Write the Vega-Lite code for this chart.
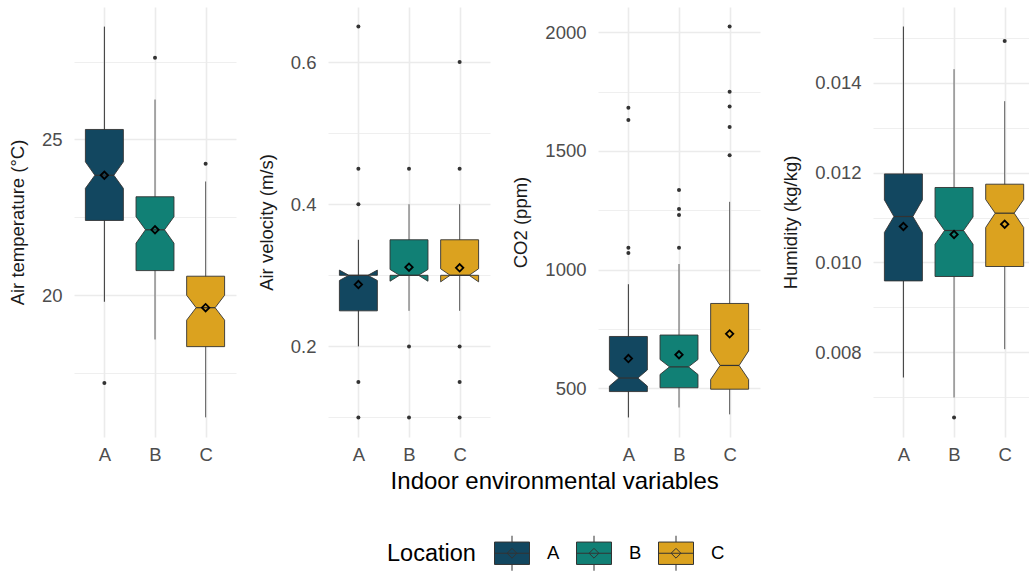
{
  "$schema": "https://vega.github.io/schema/vega-lite/v6.json",
  "datasets": {
    "boxes": [
      {"var": "temp", "loc": "A", "lo": 19.79, "q1": 22.40, "nlo": 23.43, "med": 23.85, "nhi": 24.28, "q3": 25.32, "hi": 28.62, "mean": 23.85},
      {"var": "temp", "loc": "B", "lo": 18.58, "q1": 20.79, "nlo": 21.67, "med": 22.10, "nhi": 22.52, "q3": 23.16, "hi": 26.28, "mean": 22.10},
      {"var": "temp", "loc": "C", "lo": 16.08, "q1": 18.35, "nlo": 19.20, "med": 19.60, "nhi": 20.00, "q3": 20.61, "hi": 23.65, "mean": 19.60},
      {"var": "vel", "loc": "A", "lo": 0.20, "q1": 0.25, "nlo": 0.2927, "med": 0.30, "nhi": 0.3073, "q3": 0.30, "hi": 0.35, "mean": 0.287},
      {"var": "vel", "loc": "B", "lo": 0.25, "q1": 0.30, "nlo": 0.2917, "med": 0.30, "nhi": 0.3083, "q3": 0.35, "hi": 0.40, "mean": 0.3114},
      {"var": "vel", "loc": "C", "lo": 0.25, "q1": 0.30, "nlo": 0.2908, "med": 0.30, "nhi": 0.3092, "q3": 0.35, "hi": 0.40, "mean": 0.3105},
      {"var": "co2", "loc": "A", "lo": 378, "q1": 487, "nlo": 510, "med": 544, "nhi": 578, "q3": 719, "hi": 939, "mean": 626},
      {"var": "co2", "loc": "B", "lo": 420, "q1": 503, "nlo": 559, "med": 591, "nhi": 622, "q3": 725, "hi": 1024, "mean": 642},
      {"var": "co2", "loc": "C", "lo": 391, "q1": 497, "nlo": 538, "med": 597, "nhi": 658, "q3": 858, "hi": 1286, "mean": 730},
      {"var": "hum", "loc": "A", "lo": 0.007444, "q1": 0.009591, "nlo": 0.010667, "med": 0.011022, "nhi": 0.011391, "q3": 0.011969, "hi": 0.015244, "mean": 0.0108},
      {"var": "hum", "loc": "B", "lo": 0.0070, "q1": 0.009689, "nlo": 0.010407, "med": 0.010711, "nhi": 0.011011, "q3": 0.011667, "hi": 0.014296, "mean": 0.010622},
      {"var": "hum", "loc": "C", "lo": 0.008074, "q1": 0.009911, "nlo": 0.010778, "med": 0.011096, "nhi": 0.011400, "q3": 0.01174, "hi": 0.013585, "mean": 0.010851}
    ],
    "outliers": [
      {"var": "temp", "loc": "A", "v": 17.18},
      {"var": "temp", "loc": "B", "v": 27.62},
      {"var": "temp", "loc": "C", "v": 24.22},
      {"var": "vel", "loc": "A", "v": 0.65},
      {"var": "vel", "loc": "A", "v": 0.45},
      {"var": "vel", "loc": "A", "v": 0.40},
      {"var": "vel", "loc": "A", "v": 0.15},
      {"var": "vel", "loc": "A", "v": 0.10},
      {"var": "vel", "loc": "B", "v": 0.45},
      {"var": "vel", "loc": "B", "v": 0.20},
      {"var": "vel", "loc": "B", "v": 0.10},
      {"var": "vel", "loc": "C", "v": 0.60},
      {"var": "vel", "loc": "C", "v": 0.45},
      {"var": "vel", "loc": "C", "v": 0.20},
      {"var": "vel", "loc": "C", "v": 0.15},
      {"var": "vel", "loc": "C", "v": 0.10},
      {"var": "co2", "loc": "A", "v": 1682},
      {"var": "co2", "loc": "A", "v": 1630},
      {"var": "co2", "loc": "A", "v": 1093},
      {"var": "co2", "loc": "A", "v": 1070},
      {"var": "co2", "loc": "B", "v": 1336},
      {"var": "co2", "loc": "B", "v": 1256},
      {"var": "co2", "loc": "B", "v": 1231},
      {"var": "co2", "loc": "B", "v": 1093},
      {"var": "co2", "loc": "C", "v": 2024},
      {"var": "co2", "loc": "C", "v": 1749},
      {"var": "co2", "loc": "C", "v": 1687},
      {"var": "co2", "loc": "C", "v": 1601},
      {"var": "co2", "loc": "C", "v": 1482},
      {"var": "hum", "loc": "B", "v": 0.006556},
      {"var": "hum", "loc": "C", "v": 0.014924}
    ]
  },
  "title": {"text": "Indoor environmental variables", "orient": "bottom", "anchor": "middle", "fontSize": 24, "fontWeight": "normal", "font": "Liberation Sans", "color": "#000000", "offset": -103, "dx": 36},
  "padding": {"left": 8, "right": 0, "top": 7, "bottom": 0},
  "spacing": 21,
  "hconcat": [
    {
      "width": 162, "height": 430,
      "layer": [
        {
          "data": {"name": "boxes"},
          "transform": [{"filter": "datum.var==='temp'"}, {"calculate": "indexof(['A','B','C'], datum.loc)+1", "as": "xc"}],
          "mark": {"type": "rule", "strokeWidth": 1, "stroke": {"expr": "datum.loc==='A' ? '#333333' : '#5c5c5c'"}},
          "encoding": {
            "x": {"field": "xc", "type": "quantitative", "title": null, "scale": {"domain": [0.4, 3.6], "nice": false, "zero": false}, "axis": {"values": [1, 2, 3], "labelExpr": "['','A','B','C'][datum.value]", "grid": true}},
            "y": {"field": "lo", "type": "quantitative", "title": "Air temperature (°C)", "scale": {"domain": [15.45, 29.25], "nice": false, "zero": false}, "axis": {"values": [17.5, 20, 22.5, 25, 27.5], "labelExpr": "indexof([20,25], datum.value) >= 0 ? datum.label : ''", "gridWidth": {"condition": {"test": "indexof([20,25], datum.value) >= 0", "value": 1.6}, "value": 0.8}}},
            "y2": {"field": "hi"}
          }
        },
        {
          "data": {"name": "boxes"},
          "transform": [
            {"filter": "datum.var==='temp'"},
            {"fold": ["q3", "nhi", "med", "nlo", "q1"], "as": ["k", "yv"]},
            {"calculate": "indexof(['q3','nhi','med','nlo','q1'], datum.k)", "as": "i"},
            {"calculate": "datum.k==='med' ? 0.1875 : 0.375", "as": "hw"},
            {"calculate": "indexof(['A','B','C'], datum.loc)+1", "as": "xc"},
            {"calculate": "datum.xc-datum.hw", "as": "xL"},
            {"calculate": "datum.xc+datum.hw", "as": "xR"},
            {"fold": ["xL", "xR"], "as": ["side", "xv"]},
            {"calculate": "datum.side==='xL' ? datum.i : 9-datum.i", "as": "ord"}
          ],
          "mark": {"type": "line", "interpolate": "linear-closed", "stroke": "#333333", "strokeWidth": 0.9},
          "encoding": {
            "x": {"field": "xv", "type": "quantitative", "title": null},
            "y": {"field": "yv", "type": "quantitative", "title": "Air temperature (°C)"},
            "order": {"field": "ord", "type": "quantitative"},
            "fill": {"field": "loc", "type": "nominal", "title": "Location", "scale": {"domain": ["A", "B", "C"], "range": ["#124760", "#118075", "#DBA21F"]}}
          }
        },
        {
          "data": {"name": "boxes"},
          "transform": [{"filter": "datum.var==='temp'"}, {"calculate": "indexof(['A','B','C'], datum.loc)+1", "as": "xc"}, {"calculate": "datum.xc-0.1875", "as": "m1"}, {"calculate": "datum.xc+0.1875", "as": "m2"}],
          "mark": {"type": "rule", "stroke": "#333333", "strokeWidth": 1.2},
          "encoding": {"x": {"field": "m1", "type": "quantitative", "title": null}, "x2": {"field": "m2"}, "y": {"field": "med", "type": "quantitative", "title": "Air temperature (°C)"}}
        },
        {
          "data": {"name": "outliers"},
          "transform": [{"filter": "datum.var==='temp'"}, {"calculate": "indexof(['A','B','C'], datum.loc)+1", "as": "xc"}],
          "mark": {"type": "circle", "size": 16, "color": "#333333", "opacity": 1},
          "encoding": {"x": {"field": "xc", "type": "quantitative", "title": null}, "y": {"field": "v", "type": "quantitative", "title": "Air temperature (°C)"}}
        },
        {
          "data": {"name": "boxes"},
          "transform": [{"filter": "datum.var==='temp'"}, {"calculate": "indexof(['A','B','C'], datum.loc)+1", "as": "xc"}],
          "mark": {"type": "point", "shape": "diamond", "filled": false, "stroke": "#000000", "strokeWidth": 1.8, "size": 55, "opacity": 1},
          "encoding": {"x": {"field": "xc", "type": "quantitative", "title": null}, "y": {"field": "mean", "type": "quantitative", "title": "Air temperature (°C)"}}
        }
      ]
    },
    {
      "width": 162, "height": 430,
      "layer": [
        {
          "data": {"name": "boxes"},
          "transform": [{"filter": "datum.var==='vel'"}, {"calculate": "indexof(['A','B','C'], datum.loc)+1", "as": "xc"}],
          "mark": {"type": "rule", "strokeWidth": 1, "stroke": {"expr": "datum.loc==='A' ? '#333333' : '#5c5c5c'"}},
          "encoding": {
            "x": {"field": "xc", "type": "quantitative", "title": null, "scale": {"domain": [0.4, 3.6], "nice": false, "zero": false}, "axis": {"values": [1, 2, 3], "labelExpr": "['','A','B','C'][datum.value]", "grid": true}},
            "y": {"field": "lo", "type": "quantitative", "title": "Air velocity (m/s)", "scale": {"domain": [0.0725, 0.6775], "nice": false, "zero": false}, "axis": {"values": [0.1, 0.2, 0.3, 0.4, 0.5, 0.6], "format": ".1f", "labelExpr": "indexof([0.2,0.4,0.6], datum.value) >= 0 ? datum.label : ''", "gridWidth": {"condition": {"test": "indexof([0.2,0.4,0.6], datum.value) >= 0", "value": 1.6}, "value": 0.8}}},
            "y2": {"field": "hi"}
          }
        },
        {
          "data": {"name": "boxes"},
          "transform": [
            {"filter": "datum.var==='vel'"},
            {"fold": ["q3", "nhi", "med", "nlo", "q1"], "as": ["k", "yv"]},
            {"calculate": "indexof(['q3','nhi','med','nlo','q1'], datum.k)", "as": "i"},
            {"calculate": "datum.k==='med' ? 0.1875 : 0.375", "as": "hw"},
            {"calculate": "indexof(['A','B','C'], datum.loc)+1", "as": "xc"},
            {"calculate": "datum.xc-datum.hw", "as": "xL"},
            {"calculate": "datum.xc+datum.hw", "as": "xR"},
            {"fold": ["xL", "xR"], "as": ["side", "xv"]},
            {"calculate": "datum.side==='xL' ? datum.i : 9-datum.i", "as": "ord"}
          ],
          "mark": {"type": "line", "interpolate": "linear-closed", "stroke": "#333333", "strokeWidth": 0.9},
          "encoding": {
            "x": {"field": "xv", "type": "quantitative", "title": null},
            "y": {"field": "yv", "type": "quantitative", "title": "Air velocity (m/s)"},
            "order": {"field": "ord", "type": "quantitative"},
            "fill": {"field": "loc", "type": "nominal", "title": "Location", "scale": {"domain": ["A", "B", "C"], "range": ["#124760", "#118075", "#DBA21F"]}}
          }
        },
        {
          "data": {"name": "boxes"},
          "transform": [{"filter": "datum.var==='vel'"}, {"calculate": "indexof(['A','B','C'], datum.loc)+1", "as": "xc"}, {"calculate": "datum.xc-0.1875", "as": "m1"}, {"calculate": "datum.xc+0.1875", "as": "m2"}],
          "mark": {"type": "rule", "stroke": "#333333", "strokeWidth": 1.2},
          "encoding": {"x": {"field": "m1", "type": "quantitative", "title": null}, "x2": {"field": "m2"}, "y": {"field": "med", "type": "quantitative", "title": "Air velocity (m/s)"}}
        },
        {
          "data": {"name": "outliers"},
          "transform": [{"filter": "datum.var==='vel'"}, {"calculate": "indexof(['A','B','C'], datum.loc)+1", "as": "xc"}],
          "mark": {"type": "circle", "size": 16, "color": "#333333", "opacity": 1},
          "encoding": {"x": {"field": "xc", "type": "quantitative", "title": null}, "y": {"field": "v", "type": "quantitative", "title": "Air velocity (m/s)"}}
        },
        {
          "data": {"name": "boxes"},
          "transform": [{"filter": "datum.var==='vel'"}, {"calculate": "indexof(['A','B','C'], datum.loc)+1", "as": "xc"}],
          "mark": {"type": "point", "shape": "diamond", "filled": false, "stroke": "#000000", "strokeWidth": 1.8, "size": 55, "opacity": 1},
          "encoding": {"x": {"field": "xc", "type": "quantitative", "title": null}, "y": {"field": "mean", "type": "quantitative", "title": "Air velocity (m/s)"}}
        }
      ]
    },
    {
      "width": 162, "height": 430,
      "layer": [
        {
          "data": {"name": "boxes"},
          "transform": [{"filter": "datum.var==='co2'"}, {"calculate": "indexof(['A','B','C'], datum.loc)+1", "as": "xc"}],
          "mark": {"type": "rule", "strokeWidth": 1, "stroke": {"expr": "datum.loc==='A' ? '#333333' : '#5c5c5c'"}},
          "encoding": {
            "x": {"field": "xc", "type": "quantitative", "title": null, "scale": {"domain": [0.4, 3.6], "nice": false, "zero": false}, "axis": {"values": [1, 2, 3], "labelExpr": "['','A','B','C'][datum.value]", "grid": true}},
            "y": {"field": "lo", "type": "quantitative", "title": "CO2 (ppm)", "scale": {"domain": [295.7, 2106.3], "nice": false, "zero": false}, "axis": {"values": [500, 750, 1000, 1250, 1500, 1750, 2000], "format": "d", "labelExpr": "indexof([500,1000,1500,2000], datum.value) >= 0 ? datum.label : ''", "gridWidth": {"condition": {"test": "indexof([500,1000,1500,2000], datum.value) >= 0", "value": 1.6}, "value": 0.8}}},
            "y2": {"field": "hi"}
          }
        },
        {
          "data": {"name": "boxes"},
          "transform": [
            {"filter": "datum.var==='co2'"},
            {"fold": ["q3", "nhi", "med", "nlo", "q1"], "as": ["k", "yv"]},
            {"calculate": "indexof(['q3','nhi','med','nlo','q1'], datum.k)", "as": "i"},
            {"calculate": "datum.k==='med' ? 0.1875 : 0.375", "as": "hw"},
            {"calculate": "indexof(['A','B','C'], datum.loc)+1", "as": "xc"},
            {"calculate": "datum.xc-datum.hw", "as": "xL"},
            {"calculate": "datum.xc+datum.hw", "as": "xR"},
            {"fold": ["xL", "xR"], "as": ["side", "xv"]},
            {"calculate": "datum.side==='xL' ? datum.i : 9-datum.i", "as": "ord"}
          ],
          "mark": {"type": "line", "interpolate": "linear-closed", "stroke": "#333333", "strokeWidth": 0.9},
          "encoding": {
            "x": {"field": "xv", "type": "quantitative", "title": null},
            "y": {"field": "yv", "type": "quantitative", "title": "CO2 (ppm)"},
            "order": {"field": "ord", "type": "quantitative"},
            "fill": {"field": "loc", "type": "nominal", "title": "Location", "scale": {"domain": ["A", "B", "C"], "range": ["#124760", "#118075", "#DBA21F"]}}
          }
        },
        {
          "data": {"name": "boxes"},
          "transform": [{"filter": "datum.var==='co2'"}, {"calculate": "indexof(['A','B','C'], datum.loc)+1", "as": "xc"}, {"calculate": "datum.xc-0.1875", "as": "m1"}, {"calculate": "datum.xc+0.1875", "as": "m2"}],
          "mark": {"type": "rule", "stroke": "#333333", "strokeWidth": 1.2},
          "encoding": {"x": {"field": "m1", "type": "quantitative", "title": null}, "x2": {"field": "m2"}, "y": {"field": "med", "type": "quantitative", "title": "CO2 (ppm)"}}
        },
        {
          "data": {"name": "outliers"},
          "transform": [{"filter": "datum.var==='co2'"}, {"calculate": "indexof(['A','B','C'], datum.loc)+1", "as": "xc"}],
          "mark": {"type": "circle", "size": 16, "color": "#333333", "opacity": 1},
          "encoding": {"x": {"field": "xc", "type": "quantitative", "title": null}, "y": {"field": "v", "type": "quantitative", "title": "CO2 (ppm)"}}
        },
        {
          "data": {"name": "boxes"},
          "transform": [{"filter": "datum.var==='co2'"}, {"calculate": "indexof(['A','B','C'], datum.loc)+1", "as": "xc"}],
          "mark": {"type": "point", "shape": "diamond", "filled": false, "stroke": "#000000", "strokeWidth": 1.8, "size": 55, "opacity": 1},
          "encoding": {"x": {"field": "xc", "type": "quantitative", "title": null}, "y": {"field": "mean", "type": "quantitative", "title": "CO2 (ppm)"}}
        }
      ]
    },
    {
      "width": 156, "height": 430,
      "layer": [
        {
          "data": {"name": "boxes"},
          "transform": [{"filter": "datum.var==='hum'"}, {"calculate": "indexof(['A','B','C'], datum.loc)+1", "as": "xc"}],
          "mark": {"type": "rule", "strokeWidth": 1, "stroke": {"expr": "datum.loc==='A' ? '#333333' : '#5c5c5c'"}},
          "encoding": {
            "x": {"field": "xc", "type": "quantitative", "title": null, "scale": {"domain": [0.4, 3.48], "nice": false, "zero": false}, "axis": {"values": [1, 2, 3], "labelExpr": "['','A','B','C'][datum.value]", "grid": true}},
            "y": {"field": "lo", "type": "quantitative", "title": "Humidity (kg/kg)", "scale": {"domain": [0.006122, 0.015678], "nice": false, "zero": false}, "axis": {"values": [0.007, 0.008, 0.009, 0.010, 0.011, 0.012, 0.013, 0.014, 0.015], "format": ".3f", "labelExpr": "indexof([0.008,0.010,0.012,0.014], datum.value) >= 0 ? datum.label : ''", "gridWidth": {"condition": {"test": "indexof([0.008,0.010,0.012,0.014], datum.value) >= 0", "value": 1.6}, "value": 0.8}}},
            "y2": {"field": "hi"}
          }
        },
        {
          "data": {"name": "boxes"},
          "transform": [
            {"filter": "datum.var==='hum'"},
            {"fold": ["q3", "nhi", "med", "nlo", "q1"], "as": ["k", "yv"]},
            {"calculate": "indexof(['q3','nhi','med','nlo','q1'], datum.k)", "as": "i"},
            {"calculate": "datum.k==='med' ? 0.1875 : 0.375", "as": "hw"},
            {"calculate": "indexof(['A','B','C'], datum.loc)+1", "as": "xc"},
            {"calculate": "datum.xc-datum.hw", "as": "xL"},
            {"calculate": "datum.xc+datum.hw", "as": "xR"},
            {"fold": ["xL", "xR"], "as": ["side", "xv"]},
            {"calculate": "datum.side==='xL' ? datum.i : 9-datum.i", "as": "ord"}
          ],
          "mark": {"type": "line", "interpolate": "linear-closed", "stroke": "#333333", "strokeWidth": 0.9},
          "encoding": {
            "x": {"field": "xv", "type": "quantitative", "title": null},
            "y": {"field": "yv", "type": "quantitative", "title": "Humidity (kg/kg)"},
            "order": {"field": "ord", "type": "quantitative"},
            "fill": {"field": "loc", "type": "nominal", "title": "Location", "scale": {"domain": ["A", "B", "C"], "range": ["#124760", "#118075", "#DBA21F"]}}
          }
        },
        {
          "data": {"name": "boxes"},
          "transform": [{"filter": "datum.var==='hum'"}, {"calculate": "indexof(['A','B','C'], datum.loc)+1", "as": "xc"}, {"calculate": "datum.xc-0.1875", "as": "m1"}, {"calculate": "datum.xc+0.1875", "as": "m2"}],
          "mark": {"type": "rule", "stroke": "#333333", "strokeWidth": 1.2},
          "encoding": {"x": {"field": "m1", "type": "quantitative", "title": null}, "x2": {"field": "m2"}, "y": {"field": "med", "type": "quantitative", "title": "Humidity (kg/kg)"}}
        },
        {
          "data": {"name": "outliers"},
          "transform": [{"filter": "datum.var==='hum'"}, {"calculate": "indexof(['A','B','C'], datum.loc)+1", "as": "xc"}],
          "mark": {"type": "circle", "size": 16, "color": "#333333", "opacity": 1},
          "encoding": {"x": {"field": "xc", "type": "quantitative", "title": null}, "y": {"field": "v", "type": "quantitative", "title": "Humidity (kg/kg)"}}
        },
        {
          "data": {"name": "boxes"},
          "transform": [{"filter": "datum.var==='hum'"}, {"calculate": "indexof(['A','B','C'], datum.loc)+1", "as": "xc"}],
          "mark": {"type": "point", "shape": "diamond", "filled": false, "stroke": "#000000", "strokeWidth": 1.8, "size": 55, "opacity": 1},
          "encoding": {"x": {"field": "xc", "type": "quantitative", "title": null}, "y": {"field": "mean", "type": "quantitative", "title": "Humidity (kg/kg)"}}
        }
      ]
    }
  ],
  "config": {
    "view": {"stroke": null},
    "font": "Liberation Sans",
    "axis": {"domain": false, "ticks": false, "gridColor": "#EBEBEB", "labelFontSize": 18.5, "labelColor": "#4D4D4D", "titleFontSize": 18.5, "titleFontWeight": "normal", "titleColor": "#1A1A1A", "labelFont": "Liberation Sans", "titleFont": "Liberation Sans"},
    "axisX": {"labelPadding": 8, "gridWidth": 1.6},
    "axisY": {"labelPadding": 12, "titlePadding": 14},
    "legend": {
      "orient": "none", "legendX": 313, "legendY": 528, "direction": "horizontal", "titleOrient": "left",
      "titleFontSize": 23.5, "titleFontWeight": "normal", "titleColor": "#000000", "titleFont": "Liberation Sans",
      "labelFontSize": 18.5, "labelColor": "#000000", "labelFont": "Liberation Sans",
      "symbolType": "M-1,-0.64H1V0.64H-1Z M0,-1V-0.64 M0,0.64V1 M-1,0H1 M0,-0.28L0.28,0L0,0.28L-0.28,0Z",
      "symbolSize": 1225, "symbolStrokeColor": "#333333", "symbolStrokeWidth": 1, "symbolOpacity": 1,
      "labelOffset": 17, "columnPadding": 14, "titlePadding": 18
    }
  }
}
